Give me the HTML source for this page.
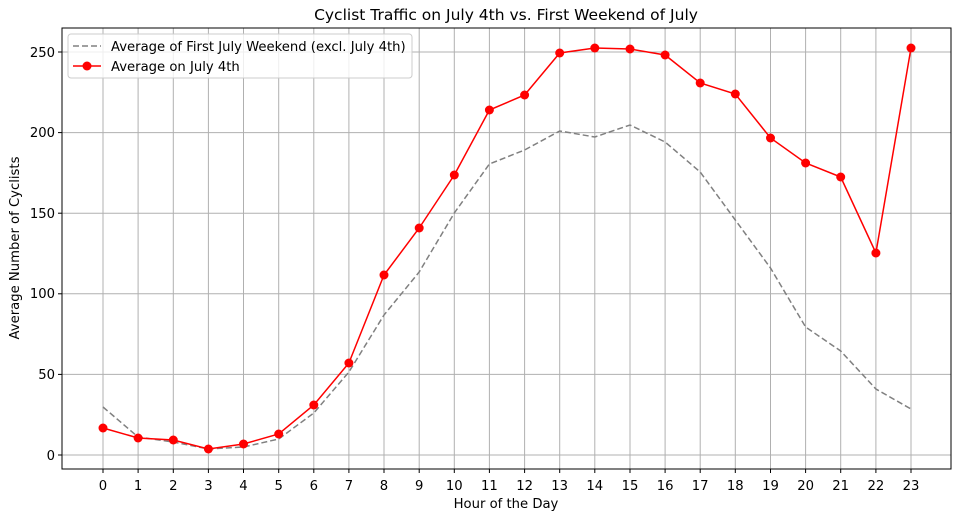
<!DOCTYPE html>
<html><head><style>body{margin:0;background:#fff}svg text{font-family:"DejaVu Sans","Liberation Sans",sans-serif;fill:#000}</style></head><body>
<svg width="960" height="519" xmlns="http://www.w3.org/2000/svg">
<rect width="960" height="519" fill="#fff"/>
<g stroke="#b0b0b0" stroke-width="1">
<line x1="103" y1="28" x2="103" y2="469"/><line x1="138.1" y1="28" x2="138.1" y2="469"/><line x1="173.3" y1="28" x2="173.3" y2="469"/><line x1="208.4" y1="28" x2="208.4" y2="469"/><line x1="243.5" y1="28" x2="243.5" y2="469"/><line x1="278.7" y1="28" x2="278.7" y2="469"/><line x1="313.8" y1="28" x2="313.8" y2="469"/><line x1="348.9" y1="28" x2="348.9" y2="469"/><line x1="384" y1="28" x2="384" y2="469"/><line x1="419.2" y1="28" x2="419.2" y2="469"/><line x1="454.3" y1="28" x2="454.3" y2="469"/><line x1="489.4" y1="28" x2="489.4" y2="469"/><line x1="524.6" y1="28" x2="524.6" y2="469"/><line x1="559.7" y1="28" x2="559.7" y2="469"/><line x1="594.8" y1="28" x2="594.8" y2="469"/><line x1="630" y1="28" x2="630" y2="469"/><line x1="665.1" y1="28" x2="665.1" y2="469"/><line x1="700.2" y1="28" x2="700.2" y2="469"/><line x1="735.3" y1="28" x2="735.3" y2="469"/><line x1="770.5" y1="28" x2="770.5" y2="469"/><line x1="805.6" y1="28" x2="805.6" y2="469"/><line x1="840.7" y1="28" x2="840.7" y2="469"/><line x1="875.9" y1="28" x2="875.9" y2="469"/><line x1="911" y1="28" x2="911" y2="469"/>
<line x1="62" y1="455" x2="951" y2="455"/><line x1="62" y1="374.4" x2="951" y2="374.4"/><line x1="62" y1="293.8" x2="951" y2="293.8"/><line x1="62" y1="213.2" x2="951" y2="213.2"/><line x1="62" y1="132.6" x2="951" y2="132.6"/><line x1="62" y1="52" x2="951" y2="52"/>
</g>
<polyline fill="none" stroke="#808080" stroke-width="1.5" stroke-dasharray="6,3" points="103,407 138.1,437 173.3,442 208.4,449 243.5,447 278.7,439 313.8,413 348.9,372 384,315 419.2,272 454.3,213 489.4,164 524.6,150 559.7,131 594.8,137 630,125 665.1,142 700.2,172 735.3,220 770.5,268 805.6,327 840.7,351 875.9,389 911,409"/>
<polyline fill="none" stroke="#ff0000" stroke-width="1.5" points="103,428 138.1,438 173.3,440 208.4,449 243.5,444 278.7,434 313.8,405 348.9,363 384,275 419.2,228 454.3,175 489.4,110 524.6,95 559.7,53 594.8,48 630,49 665.1,55 700.2,83 735.3,94 770.5,138 805.6,163 840.7,177 875.9,253 911,48"/>
<g fill="#ff0000">
<circle cx="103" cy="428" r="4.5"/><circle cx="138.1" cy="438" r="4.5"/><circle cx="173.3" cy="440" r="4.5"/><circle cx="208.4" cy="449" r="4.5"/><circle cx="243.5" cy="444" r="4.5"/><circle cx="278.7" cy="434" r="4.5"/><circle cx="313.8" cy="405" r="4.5"/><circle cx="348.9" cy="363" r="4.5"/><circle cx="384" cy="275" r="4.5"/><circle cx="419.2" cy="228" r="4.5"/><circle cx="454.3" cy="175" r="4.5"/><circle cx="489.4" cy="110" r="4.5"/><circle cx="524.6" cy="95" r="4.5"/><circle cx="559.7" cy="53" r="4.5"/><circle cx="594.8" cy="48" r="4.5"/><circle cx="630" cy="49" r="4.5"/><circle cx="665.1" cy="55" r="4.5"/><circle cx="700.2" cy="83" r="4.5"/><circle cx="735.3" cy="94" r="4.5"/><circle cx="770.5" cy="138" r="4.5"/><circle cx="805.6" cy="163" r="4.5"/><circle cx="840.7" cy="177" r="4.5"/><circle cx="875.9" cy="253" r="4.5"/><circle cx="911" cy="48" r="4.5"/>
</g>
<rect x="62" y="28" width="889" height="441" fill="none" stroke="#000" stroke-width="1"/>
<g stroke="#000"><line x1="103" y1="469" x2="103" y2="473"/><line x1="138.1" y1="469" x2="138.1" y2="473"/><line x1="173.3" y1="469" x2="173.3" y2="473"/><line x1="208.4" y1="469" x2="208.4" y2="473"/><line x1="243.5" y1="469" x2="243.5" y2="473"/><line x1="278.7" y1="469" x2="278.7" y2="473"/><line x1="313.8" y1="469" x2="313.8" y2="473"/><line x1="348.9" y1="469" x2="348.9" y2="473"/><line x1="384" y1="469" x2="384" y2="473"/><line x1="419.2" y1="469" x2="419.2" y2="473"/><line x1="454.3" y1="469" x2="454.3" y2="473"/><line x1="489.4" y1="469" x2="489.4" y2="473"/><line x1="524.6" y1="469" x2="524.6" y2="473"/><line x1="559.7" y1="469" x2="559.7" y2="473"/><line x1="594.8" y1="469" x2="594.8" y2="473"/><line x1="630" y1="469" x2="630" y2="473"/><line x1="665.1" y1="469" x2="665.1" y2="473"/><line x1="700.2" y1="469" x2="700.2" y2="473"/><line x1="735.3" y1="469" x2="735.3" y2="473"/><line x1="770.5" y1="469" x2="770.5" y2="473"/><line x1="805.6" y1="469" x2="805.6" y2="473"/><line x1="840.7" y1="469" x2="840.7" y2="473"/><line x1="875.9" y1="469" x2="875.9" y2="473"/><line x1="911" y1="469" x2="911" y2="473"/></g>
<g font-size="13.2" text-anchor="middle">
<text x="103" y="490">0</text><text x="138.1" y="490">1</text><text x="173.3" y="490">2</text><text x="208.4" y="490">3</text><text x="243.5" y="490">4</text><text x="278.7" y="490">5</text><text x="313.8" y="490">6</text><text x="348.9" y="490">7</text><text x="384" y="490">8</text><text x="419.2" y="490">9</text><text x="454.3" y="490">10</text><text x="489.4" y="490">11</text><text x="524.6" y="490">12</text><text x="559.7" y="490">13</text><text x="594.8" y="490">14</text><text x="630" y="490">15</text><text x="665.1" y="490">16</text><text x="700.2" y="490">17</text><text x="735.3" y="490">18</text><text x="770.5" y="490">19</text><text x="805.6" y="490">20</text><text x="840.7" y="490">21</text><text x="875.9" y="490">22</text><text x="911" y="490">23</text>
</g>
<g font-size="13.2" text-anchor="end">
<text x="55" y="460">0</text><text x="55" y="379">50</text><text x="55" y="298">100</text><text x="55" y="218">150</text><text x="55" y="137">200</text><text x="55" y="57">250</text>
</g>
<g stroke="#000"><line x1="62" y1="455" x2="58" y2="455"/><line x1="62" y1="374.4" x2="58" y2="374.4"/><line x1="62" y1="293.8" x2="58" y2="293.8"/><line x1="62" y1="213.2" x2="58" y2="213.2"/><line x1="62" y1="132.6" x2="58" y2="132.6"/><line x1="62" y1="52" x2="58" y2="52"/></g>
<text x="506" y="508" font-size="13.2" text-anchor="middle">Hour of the Day</text>
<text x="19" y="248" font-size="13.2" text-anchor="middle" transform="rotate(-90 19 248)">Average Number of Cyclists</text>
<text x="506" y="20" font-size="15.5" text-anchor="middle">Cyclist Traffic on July 4th vs. First Weekend of July</text>
<rect x="68" y="34" width="344" height="44" rx="3" fill="#fff" fill-opacity="0.8" stroke="#ccc"/>
<line x1="73" y1="46" x2="101" y2="46" stroke="#808080" stroke-width="1.5" stroke-dasharray="6,3"/>
<line x1="73" y1="66" x2="101" y2="66" stroke="#ff0000" stroke-width="1.5"/>
<circle cx="87" cy="66" r="4.5" fill="#ff0000"/>
<text x="111" y="51" font-size="13.2">Average of First July Weekend (excl. July 4th)</text>
<text x="111" y="71" font-size="13.2">Average on July 4th</text>
</svg>
</body></html>
